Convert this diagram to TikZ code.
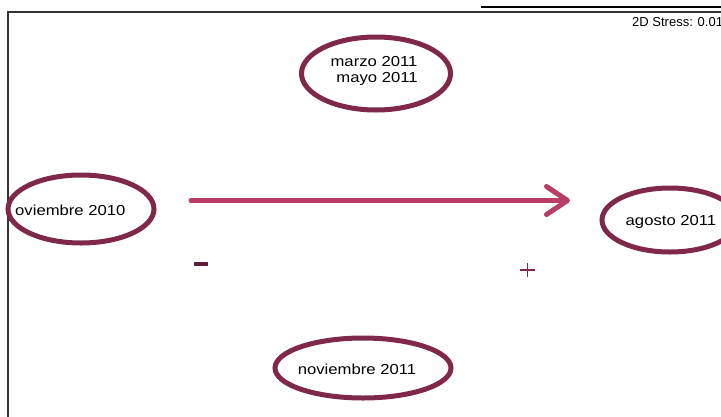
\documentclass[tikz,border=0pt]{standalone}
\usepackage{fontspec}
\setmainfont{Liberation Sans}
\newfontfamily\lab{Liberation Sans}[FakeStretch=1.15]
\usetikzlibrary{shapes.geometric,arrows.meta,calc}
\definecolor{ringc}{HTML}{80284A}
\definecolor{arrc}{HTML}{B83E68}
\definecolor{minusc}{HTML}{5C1D39}
\tikzset{
  ring/.style={draw=ringc, line width=5pt, ellipse, inner sep=0pt},
  txt/.style={font=\lab\fontsize{14.5}{16}\selectfont, inner sep=0pt, align=center, text=black},
  frameline/.style={draw=black!80, line width=1.8pt},
}
\begin{document}
\begin{tikzpicture}[x=1pt,y=-1pt]
\useasboundingbox (0,0) rectangle (721,416);
% frame
\coordinate (fTL) at (8,12);
\coordinate (fBL) at (8,418);
\coordinate (fTR) at (723,12);
\coordinate (sL) at (481,7);
\coordinate (sR) at (723,7);
\draw[frameline] (fBL) -- (fTL) -- (fTR);
\draw[frameline, draw=black] (sL) -- (sR);
\node[anchor=base west, font=\fontsize{13}{15}\selectfont, inner sep=0pt] (stress) at (632,26) {2D Stress: 0.01};
% ellipses
\node[ring, minimum width=149pt, minimum height=73pt] (eTop) at (376,73.5) {};
\node[ring, minimum width=146pt, minimum height=68pt] (eLeft) at (81,209) {};
\node[ring, minimum width=136pt, minimum height=64pt] (eRight) at (670,220) {};
\node[ring, minimum width=176pt, minimum height=60pt] (eBot) at (363,368) {};
% labels
\node[txt] (tTop) at (374,70.5) {marzo 2011\\\hspace*{6pt}mayo 2011};
\node[txt, anchor=west] (tLeft) at (15,210.5) {oviembre 2010};
\node[txt] (tRight) at (671,222) {agosto 2011};
\node[txt] (tBot) at (357,369.5) {noviembre 2011};
% arrow
\coordinate (aS) at (191,200.5);
\coordinate (aE) at (570,200.5);
\draw[arrc, line width=5pt, line cap=round, -{Straight Barb[length=21pt, width=28pt, round]}] (aS) -- (aE);
% signs
\node[fill=minusc, minimum width=14pt, minimum height=4pt, inner sep=0pt] (minus) at (201,264) {};
\coordinate (pC) at (527.5,270);
\draw[ringc, line width=1.3pt] ($(pC)+(-7.5,0)$) -- ($(pC)+(7.5,0)$) ($(pC)+(0,-7)$) -- ($(pC)+(0,7)$);
\end{tikzpicture}
\end{document}
